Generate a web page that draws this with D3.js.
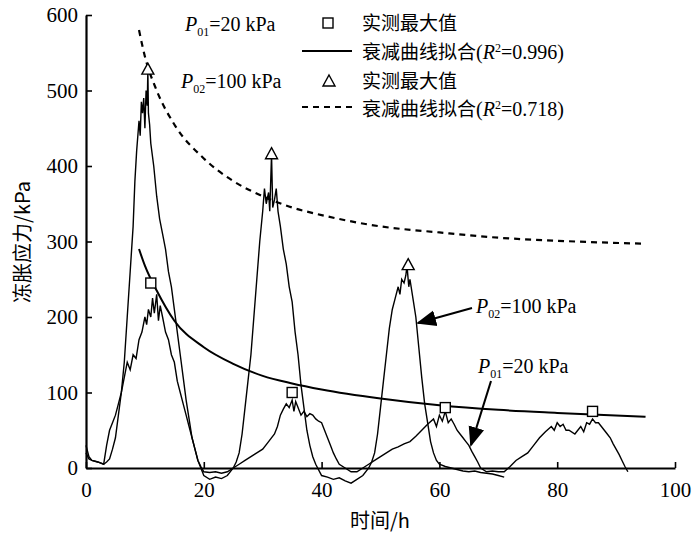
<!DOCTYPE html>
<html><head><meta charset="utf-8">
<script src="https://cdn.jsdelivr.net/npm/d3@7"></script>
<style>body{margin:0;background:#fff}</style>
</head><body><svg id="chart" width="700" height="537"></svg>
<script>
// measured curves (t in h, stress in kPa)
const p02 = [[0,30],[0.5,15],[1,10],[2,8],[3,5],[3.5,8],[4,12],[4.5,25],[5,40],[5.5,70],[6,100],[6.5,140],[7,200],[7.5,260],[8,320],[8.3,380],[8.6,420],[9,460],[9.2,440],[9.4,485],[9.6,470],[9.8,490],[10,450],[10.2,500],[10.4,480],[10.5,527],[10.6,470],[10.8,455],[11,430],[11.5,400],[12,360],[12.5,330],[13,310],[13.5,290],[14,260],[14.5,240],[15,210],[15.5,180],[16,150],[16.5,120],[17,90],[17.5,65],[18,40],[18.5,25],[19,10],[19.5,0],[20,-10],[21,-15],[22,-12],[23,-14],[24,-10],[25,0],[25.5,8],[26,20],[26.5,45],[27,80],[27.5,115],[28,150],[28.5,200],[29,250],[29.5,300],[30,340],[30.3,370],[30.6,350],[31,365],[31.2,340],[31.5,415],[31.7,345],[32,355],[32.3,370],[32.6,340],[33,320],[33.5,290],[34,270],[34.5,240],[35,220],[35.5,180],[36,150],[36.5,110],[37,80],[37.5,50],[38,30],[38.5,15],[39,5],[40,-10],[41,-12],[42,-15],[43,-13],[44,-17],[45,-20],[46,-15],[47,-10],[48,0],[48.5,8],[49,20],[49.5,45],[50,80],[50.5,115],[51,150],[51.5,185],[52,210],[52.5,225],[53,240],[53.3,230],[53.6,250],[54,245],[54.3,255],[54.5,268],[54.8,240],[55,250],[55.5,225],[56,200],[56.5,160],[57,120],[57.5,85],[58,60],[58.5,35],[59,20],[59.5,10],[60,5],[61,2],[62,0],[63,-2],[64,-4],[65,-5],[66,-4],[67,-6],[68,-7],[69,-8],[70,-10],[71,-12]];
const p01 = [[0,20],[0.5,12],[1,10],[2,8],[3,5],[3.5,30],[4,50],[4.5,60],[5,70],[5.5,85],[6,100],[6.5,120],[7,140],[7.5,130],[8,150],[8.5,145],[9,170],[9.5,180],[10,200],[10.3,190],[10.6,210],[11,200],[11.3,225],[11.6,205],[12,230],[12.3,195],[12.6,215],[13,200],[13.5,180],[14,170],[14.5,150],[15,140],[15.5,115],[16,100],[16.5,85],[17,70],[17.5,55],[18,40],[18.5,25],[19,10],[19.5,2],[20,-5],[21,-6],[22,-5],[23,-7],[24,-5],[25,0],[26,5],[27,10],[28,15],[29,20],[30,25],[31,35],[32,45],[32.5,55],[33,70],[33.5,78],[34,85],[34.5,80],[35,90],[35.3,75],[35.6,88],[36,80],[36.5,70],[37,75],[37.5,68],[38,72],[38.5,70],[39,65],[39.5,62],[40,60],[40.5,50],[41,40],[41.5,30],[42,20],[42.5,12],[43,5],[44,0],[45,-5],[46,-5],[47,0],[48,5],[49,10],[50,15],[51,20],[52,25],[53,28],[54,32],[55,35],[56,42],[57,50],[58,58],[59,65],[59.5,55],[60,70],[60.5,62],[61,75],[61.5,60],[62,65],[62.5,58],[63,50],[63.5,45],[64,40],[64.5,35],[65,30],[65.5,22],[66,15],[66.5,8],[67,0],[68,-5],[69,-4],[70,-5],[71,-5],[72,2],[73,10],[74,15],[75,20],[76,30],[77,40],[78,48],[79,55],[79.5,50],[80,60],[80.5,55],[81,58],[81.5,50],[82,50],[83,45],[83.5,50],[84,55],[84.5,48],[85,60],[85.5,58],[86,65],[86.5,60],[87,60],[87.5,55],[88,50],[88.5,45],[89,40],[89.5,32],[90,25],[90.5,18],[91,10],[91.5,2],[92,-5]];
// fitted decay curves
const fit01 = [[9,290],[10,268],[12,235],[15,195],[20,160],[25,138],[30,122],[35,112],[40,104],[50,92],[60,83],[70,77],[80,73],[95,68]];
const fit02 = [[9,580],[10,545],[12,500],[15,455],[20,410],[25,380],[30,360],[35,345],[40,335],[50,320],[60,312],[70,305],[80,301],[95,297]];
// measured maxima
const max01 = [[11,245],[35,100],[61,80],[86,75]];
const max02 = [[10.5,527],[31.5,415],[54.7,268]];
const xTicks = [0,20,40,60,80,100];
const yTicks = [0,100,200,300,400,500,600];

const svg = d3.select("#chart");
const x = d3.scaleLinear().domain([0,100]).range([86,675]);
const y = d3.scaleLinear().domain([0,600]).range([468,15]);
const serif = "'Liberation Serif','Times New Roman',serif";
const cjk = "'Noto Sans CJK SC',sans-serif";
const line = d3.line().x(d => x(d[0])).y(d => y(d[1]));

const clip = svg.append("defs").append("clipPath").attr("id","c")
  .append("rect").attr("x",0).attr("y",0).attr("width",700).attr("height",484);

[p02, p01].forEach(s => svg.append("path").attr("d", line(s)).attr("fill","none")
  .attr("stroke","#000").attr("stroke-width",1.4).attr("clip-path","url(#c)"));
svg.append("path").attr("d", line.curve(d3.curveMonotoneX)(fit01)).attr("fill","none").attr("stroke","#000").attr("stroke-width",2);
svg.append("path").attr("d", line(fit02)).attr("fill","none").attr("stroke","#000").attr("stroke-width",2.2).attr("stroke-dasharray","6,5");

// axes
const xa = svg.append("g").attr("transform","translate(0,"+y(0)+")")
  .call(d3.axisBottom(x).tickValues(xTicks).tickSizeInner(-6).tickSizeOuter(0).tickPadding(14));
const ya = svg.append("g").attr("transform","translate("+x(0)+",0)")
  .call(d3.axisLeft(y).tickValues(yTicks).tickSizeInner(-6).tickSizeOuter(0).tickPadding(8));
[xa, ya].forEach(a => {
  a.select(".domain").attr("stroke-width",2.2);
  a.selectAll(".tick line").attr("stroke-width",1.6);
  a.selectAll("text").attr("font-family",serif).attr("font-size",21).attr("fill","#000");
});

function sq(g, px, py) {
  g.append("rect").attr("x",px-5).attr("y",py-5).attr("width",10).attr("height",10)
   .attr("fill","#fff").attr("stroke","#000").attr("stroke-width",1.4);
}
function tri(g, px, py) {
  g.append("path").attr("d",`M${px},${py-7}L${px+6},${py+4}L${px-6},${py+4}Z`)
   .attr("fill","#fff").attr("stroke","#000").attr("stroke-width",1.4);
}
max01.forEach(d => sq(svg, x(d[0]), y(d[1])));
max02.forEach(d => tri(svg, x(d[0]), y(d[1])));

// labels with subscripts
function plabel(px, py, sub, rest) {
  const t = svg.append("text").attr("x",px).attr("y",py).attr("font-family",serif).attr("font-size",20);
  t.append("tspan").attr("font-style","italic").text("P");
  t.append("tspan").attr("font-size",12).attr("dy",5).text(sub);
  t.append("tspan").attr("dy",-5).text(rest);
}
plabel(185, 31, "01", "=20 kPa");
plabel(181, 88, "02", "=100 kPa");
plabel(476, 313, "02", "=100 kPa");
plabel(478, 373, "01", "=20 kPa");

// legend
sq(svg, 328, 23); tri(svg, 329, 82);
svg.append("line").attr("x1",302).attr("x2",352).attr("y1",51).attr("y2",51).attr("stroke","#000").attr("stroke-width",2);
svg.append("line").attr("x1",302).attr("x2",352).attr("y1",107).attr("y2",107).attr("stroke","#000").attr("stroke-width",2.2).attr("stroke-dasharray","6,5");
function ltext(py, r2) {
  const t = svg.append("text").attr("x",362).attr("y",py).attr("font-size",19);
  t.append("tspan").attr("font-family",cjk).text(r2 ? "衰减曲线拟合" : "实测最大值");
  if (r2) {
    t.append("tspan").attr("font-family",serif).attr("font-size",20).text("(");
    t.append("tspan").attr("font-family",serif).attr("font-size",20).attr("font-style","italic").text("R");
    t.append("tspan").attr("font-family",serif).attr("font-size",12).attr("dy",-7).text("2");
    t.append("tspan").attr("font-family",serif).attr("font-size",20).attr("dy",7).text("=" + r2 + ")");
  }
}
ltext(30); ltext(59, "0.996"); ltext(88); ltext(116, "0.718");

// arrows
svg.append("defs").append("marker").attr("id","ar").attr("viewBox","0 0 10 10").attr("refX",9).attr("refY",5)
  .attr("markerWidth",10).attr("markerHeight",10).attr("orient","auto")
  .append("path").attr("d","M0,1L10,5L0,9Z").attr("fill","#000");
svg.append("line").attr("x1",472).attr("y1",308).attr("x2",418).attr("y2",323).attr("stroke","#000").attr("stroke-width",2).attr("marker-end","url(#ar)");
svg.append("line").attr("x1",491).attr("y1",381).attr("x2",471).attr("y2",445).attr("stroke","#000").attr("stroke-width",2).attr("marker-end","url(#ar)");

// axis titles
svg.append("text").attr("x",380).attr("y",528).attr("text-anchor","middle").attr("font-size",20)
  .attr("font-family",cjk).text("时间/h");
svg.append("text").attr("transform","translate(30,242) rotate(-90)").attr("text-anchor","middle")
  .attr("font-size",20).attr("font-family",cjk).text("冻胀应力/kPa");
</script></body></html>
